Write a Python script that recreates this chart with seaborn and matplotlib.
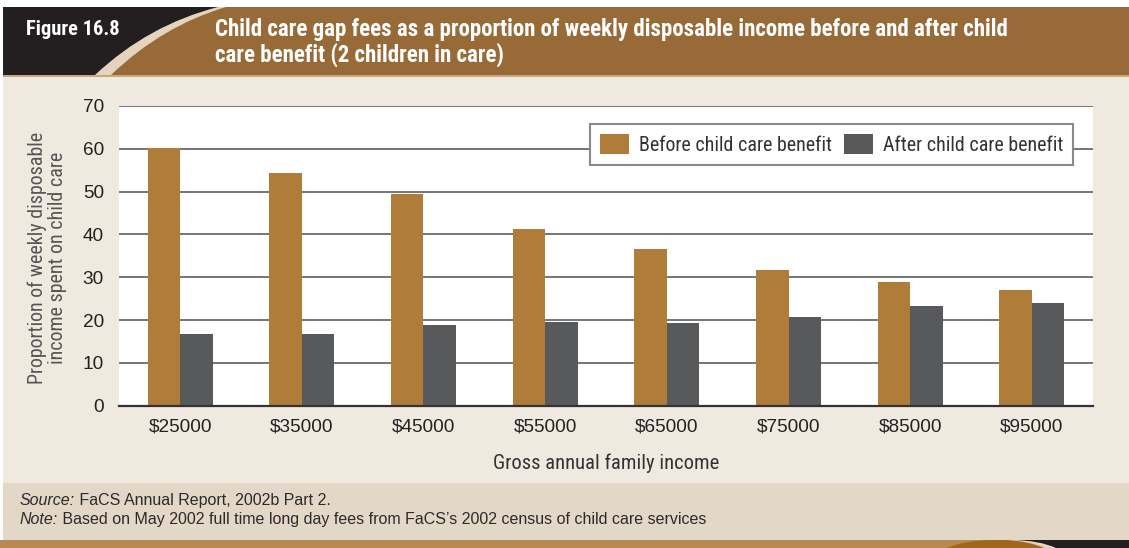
import matplotlib
matplotlib.use("Agg")
import numpy as np
import pandas as pd
import seaborn as sns
import matplotlib.pyplot as plt
from matplotlib import font_manager
from matplotlib.path import Path
from matplotlib.patches import PathPatch, Rectangle, Patch

# ---- data -----------------------------------------------------------------
incomes = ["$25000", "$35000", "$45000", "$55000",
           "$65000", "$75000", "$85000", "$95000"]
before_benefit = [60.1, 54.3, 49.4, 41.2, 36.5, 31.8, 29.0, 27.1]
after_benefit = [16.8, 16.8, 18.9, 19.6, 19.4, 20.8, 23.4, 24.1]
series_names = ["Before child care benefit", "After child care benefit"]
y_ticks = [0, 10, 20, 30, 40, 50, 60, 70]

df = pd.DataFrame({
    "income": incomes * 2,
    "share": before_benefit + after_benefit,
    "series": [series_names[0]] * len(incomes) + [series_names[1]] * len(incomes),
})

# ---- colours ----------------------------------------------------------------
BAR_BROWN = "#b07c3a"
BAR_GREY = "#58595b"
HEAD_DARK = "#231f20"
HEAD_BROWN = "#986a37"
HEAD_TAN = "#e4d3bd"
PANEL = "#f0e9e0"
NOTE_BAND = "#e3d7c7"
FOOT_TAN = "#b78a4f"

# ---- fonts ------------------------------------------------------------------
sns.set_theme(style="white")
available = {f.name for f in font_manager.fontManager.ttflist}


def pick(*names):
    for n in names:
        if n in available:
            return n
    return "DejaVu Sans"


NARROW = pick("Liberation Sans Narrow", "Roboto Condensed", "Liberation Sans")
REGULAR = pick("Liberation Sans", "Roboto", "DejaVu Sans")
is_narrow = NARROW not in ("Liberation Sans", "DejaVu Sans")
plt.rcParams["font.family"] = [REGULAR, "DejaVu Sans"]

s_legend = 14.4 if is_narrow else 13.0
s_label = 14.9 if is_narrow else 13.0
s_ylabel = 14.4 if is_narrow else 12.9

# ---- canvas -----------------------------------------------------------------
W, H = 1129, 548
fig = plt.figure(figsize=(W / 100, H / 100), dpi=100)
fig.patch.set_facecolor("white")
renderer = fig.canvas.get_renderer()


def fit_width(text, width_px):
    """Rescale a text so that its rendered width equals width_px."""
    current = text.get_window_extent(renderer).width
    text.set_fontsize(text.get_fontsize() * width_px / current)


bg = fig.add_axes([0, 0, 1, 1], zorder=0)
bg.set_xlim(0, W)
bg.set_ylim(H, 0)
bg.axis("off")

# header band with curved divider
bg.add_patch(Rectangle((3, 7), W - 3, 68, color=HEAD_DARK, lw=0))
tan_curve = Path([(95, 75), (148, 25), (218, 7), (W, 7), (W, 75), (95, 75)],
                 [Path.MOVETO, Path.CURVE3, Path.CURVE3, Path.LINETO, Path.LINETO, Path.CLOSEPOLY])
bg.add_patch(PathPatch(tan_curve, color=HEAD_TAN, lw=0))
brown_curve = Path([(111, 75), (162, 26), (226, 7), (W, 7), (W, 75), (111, 75)],
                   [Path.MOVETO, Path.CURVE3, Path.CURVE3, Path.LINETO, Path.LINETO, Path.CLOSEPOLY])
bg.add_patch(PathPatch(brown_curve, color=HEAD_BROWN, lw=0))
bg.add_patch(Rectangle((3, 75), W - 3, 2, color="#c9a67e", lw=0))

# body panel, note band and footer strip
bg.add_patch(Rectangle((3, 77), W - 3, 406, color=PANEL, lw=0))
bg.add_patch(Rectangle((3, 483), W - 3, 57, color=NOTE_BAND, lw=0))
bg.add_patch(Rectangle((0, 540), W, 8, color=FOOT_TAN, lw=0))
corner_tan = Path([(1004, 540), (W, 540), (W, 548), (1045, 548), (1030, 541), (1004, 540)],
                  [Path.MOVETO, Path.LINETO, Path.LINETO, Path.LINETO, Path.CURVE3, Path.CURVE3])
bg.add_patch(PathPatch(corner_tan, color=HEAD_TAN, lw=0))
hump = Path([(947, 548), (965, 540), (995, 540), (1006, 540), (1028, 541.5), (1043, 548), (947, 548)],
            [Path.MOVETO, Path.CURVE3, Path.CURVE3, Path.LINETO, Path.CURVE3, Path.CURVE3, Path.CLOSEPOLY])
bg.add_patch(PathPatch(hump, color="#a0661c", lw=0))
corner_dark = Path([(1013, 540), (W, 540), (W, 548), (1056, 548), (1040, 540.5), (1013, 540)],
                   [Path.MOVETO, Path.LINETO, Path.LINETO, Path.LINETO, Path.CURVE3, Path.CURVE3])
bg.add_patch(PathPatch(corner_dark, color=HEAD_DARK, lw=0))

# header texts
bold = dict(family=[NARROW, "DejaVu Sans"], weight="bold", color="white")
fig_label = bg.text(26, 35, "Figure 16.8", fontsize=15, va="baseline", ha="left", **bold)
title_1 = bg.text(215, 36, "Child care gap fees as a proportion of weekly disposable income before and after child",
                  fontsize=15, va="baseline", ha="left", **bold)
title_2 = bg.text(215, 62, "care benefit (2 children in care)",
                  fontsize=15, va="baseline", ha="left", **bold)
fit_width(fig_label, 94)
fit_width(title_1, 793)
title_2.set_fontsize(title_1.get_fontsize())

# source and note lines: italic lead word followed by regular text
note_style = dict(family=[REGULAR, "DejaVu Sans"], fontsize=11.5, color="#2b2b2b")
note_parts = []
for y, lead, rest in [(505, "Source:", " FaCS Annual Report, 2002b Part 2."),
                      (524, "Note:", " Based on May 2002 full time long day fees from FaCS\u2019s 2002 census of child care services")]:
    t = bg.text(20, y, lead, style="italic", va="baseline", ha="left", **note_style)
    r = bg.annotate(rest, xy=(1, 0), xycoords=t, va="bottom", ha="left", **note_style)
    note_parts.append((t, r))

# ---- chart ------------------------------------------------------------------
L, R, T, B = 119.3, 1092.7, 106.0, 405.7
ax = fig.add_axes([L / W, 1 - B / H, (R - L) / W, (B - T) / H], zorder=1)
ax.set_facecolor("white")

sns.barplot(data=df, x="income", y="share", hue="series",
            palette=[BAR_BROWN, BAR_GREY], saturation=1, width=0.535, gap=0,
            dodge=True, legend=False, ax=ax, zorder=3, linewidth=0)

ax.set_ylim(0, 70)
ax.set_yticks(y_ticks)
ax.set_xlim(-0.5, len(incomes) - 0.5)
ax.set_axisbelow(True)
ax.yaxis.grid(True, color="#505050", lw=1.1)
ax.xaxis.grid(False)

for side in ("left", "right", "top"):
    ax.spines[side].set_visible(False)
ax.spines["bottom"].set_color("#333333")
ax.spines["bottom"].set_linewidth(1.6)
ax.spines["bottom"].set_zorder(4)

ax.set_xticks(np.arange(-0.5, len(incomes), 1.0), minor=True)
ax.tick_params(axis="x", which="major", length=0, pad=9, labelsize=13.7, labelcolor="#222222")
ax.tick_params(axis="x", which="minor", direction="in", length=6, width=1.2, color="#333333")
ax.tick_params(axis="y", length=0, pad=11, labelsize=13.7, labelcolor="#222222")

ax.set_xlabel("Gross annual family income", family=[NARROW, "DejaVu Sans"],
              fontsize=s_label, color="#333333", va="baseline")
ax.xaxis.set_label_coords(0.5, (B - 469) / (B - T))
ax.set_ylabel("Proportion of weekly disposable\nincome spent on child care",
              family=[NARROW, "DejaVu Sans"], fontsize=s_ylabel, color="#555555",
              ha="center", va="center", multialignment="center", linespacing=1.05)
ax.yaxis.set_label_coords((47 - L) / (R - L), (B - 258) / (B - T))

handles = [Patch(facecolor=c, edgecolor="none") for c in (BAR_BROWN, BAR_GREY)]
leg = ax.legend(handles, series_names, loc="upper right",
                bbox_to_anchor=(1073 / W, 1 - 124 / H), bbox_transform=fig.transFigure,
                ncol=2, frameon=True, fancybox=False, framealpha=1, edgecolor="#8a8a8a",
                borderaxespad=0, borderpad=0.5, handlelength=1.45, handleheight=1.15,
                handletextpad=0.5, columnspacing=0.6,
                prop=dict(family=[NARROW, "DejaVu Sans"], size=s_legend))
leg.get_frame().set_linewidth(1.5)
for txt in leg.get_texts():
    txt.set_color("#333333")

fig.savefig("out.png", dpi=100, facecolor=fig.get_facecolor())
